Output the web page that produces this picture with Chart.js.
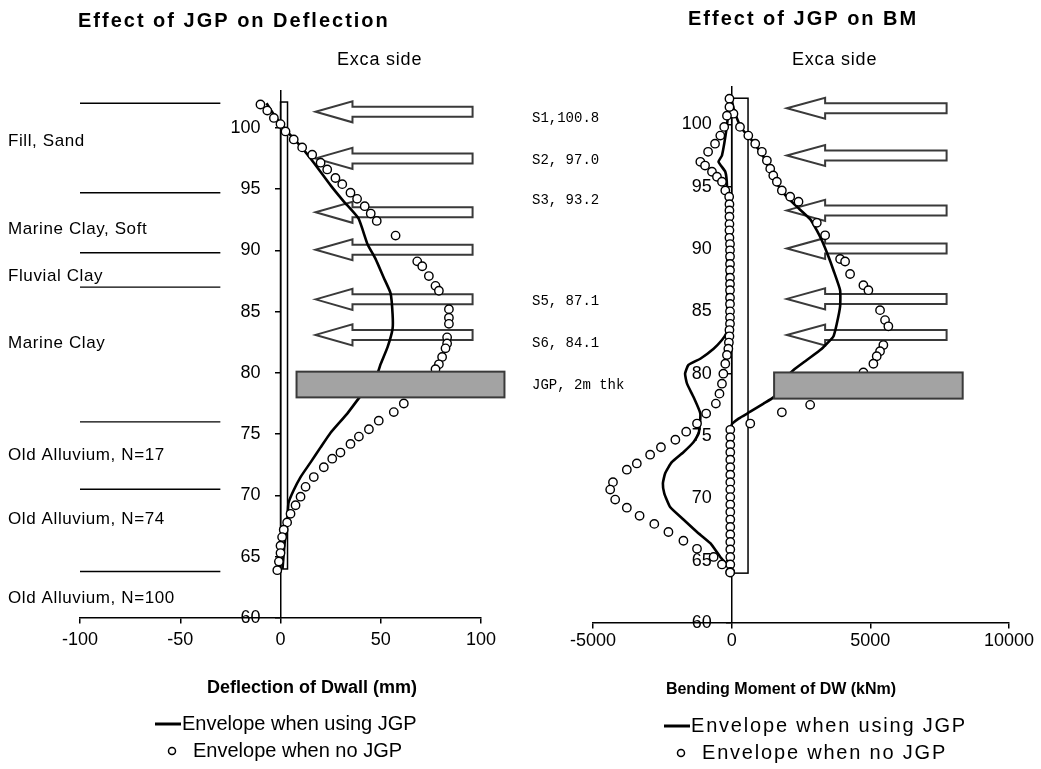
<!DOCTYPE html>
<html><head><meta charset="utf-8">
<script src="https://cdn.jsdelivr.net/npm/chart.js@4/dist/chart.umd.min.js"></script>
<style>
html,body{margin:0;padding:0;background:#fff;}
#wrap{position:relative;width:1041px;height:769px;overflow:hidden;}
canvas{position:absolute;left:0;top:0;}
</style></head><body>
<div id="wrap"><canvas id="c1" width="1041" height="769"></canvas><canvas id="c2" width="1041" height="769"></canvas></div>
<script>
// ---------- data ----------
const elevTicks = [60, 65, 70, 75, 80, 85, 90, 95, 100];
const deflTicks = [-100, -50, 0, 50, 100];
const bmTicks = [-5000, 0, 5000, 10000];

// Deflection envelope with JGP (mm, elevation m)
const deflJgpValue = [-7, -3, 3.3, 10, 16.6, 25, 31.5, 38.9, 43.4, 47.4, 51.4, 54.9, 55.9, 55.9, 53.4, 49.9, 48.4, 38.9, 33.4, 24.9, 19.9, 15, 10, 6.5, 4, 3.5, 3, 2, 1];
const deflJgpElev  = [102, 101, 99.7, 98.5, 97.15, 95.3, 94.0, 92.6, 90.5, 89.3, 87.8, 86.5, 84.8, 83.6, 82.1, 80.7, 80.0, 77.9, 76.7, 75.1, 73.9, 72.7, 71.5, 70.4, 69.4, 68.2, 67.4, 66, 64];

// Deflection envelope without JGP
const deflNoJgpValue = [-10, -6.6, -3.3, 0, 2.5, 6.6, 10.8, 15.8, 20, 23.3, 27.4, 30.8, 34.9, 38.2, 42, 45, 48, 57.4, 68.2, 70.7, 74, 77.3, 79, 84, 84, 84, 83.1, 83.1, 82.3, 80.6, 79, 77.3, 61.5, 56.5, 49, 44.1, 39.1, 34.9, 29.9, 25.8, 21.6, 16.6, 12.5, 10, 7.5, 5, 3.3, 1.6, 0.8, 0, 0, -0.8, -1.6];
const deflNoJgpElev  = [101.9, 101.4, 100.8, 100.3, 99.7, 99.05, 98.4, 97.8, 97.15, 96.6, 95.9, 95.4, 94.7, 94.2, 93.6, 93.0, 92.4, 91.2, 89.1, 88.7, 87.9, 87.1, 86.7, 85.2, 84.5, 84.0, 82.9, 82.4, 82.0, 81.3, 80.7, 80.3, 77.5, 76.8, 76.1, 75.4, 74.8, 74.2, 73.5, 73.0, 72.3, 71.5, 70.7, 69.9, 69.2, 68.5, 67.8, 67.2, 66.6, 65.9, 65.3, 64.6, 63.9];

// Bending moment envelope with JGP (kNm) - negative and positive branches
const bmJgpNegValue = [-80, -100, -170, -350, -475, -230, -170, -160, -160, -160, -160, -200, -350, -650, -1130, -1560, -1680, -1610, -1380, -1130, -1190, -1380, -1740, -2160, -2400, -2480, -2430, -2220, -1740, -1250, -770, -410, -170, -50];
const bmJgpNegElev  = [102, 101.5, 99.9, 97.5, 97.0, 96.2, 95.1, 92, 88, 85, 83.8, 83.2, 82.7, 82.0, 81.2, 80.7, 80.0, 79.2, 78.15, 76.8, 75.2, 74.5, 73.7, 72.9, 72.0, 71.2, 70.4, 69.3, 68.3, 67.3, 66.4, 65.3, 64.7, 64.3];
const bmJgpPosValue = [0, 100, 350, 700, 1000, 1250, 1450, 1650, 1900, 2300, 2830, 3070, 3250, 3490, 3670, 3910, 3910, 3790, 3670, 3250, 2710, 2230, 1990, 1750, 1530, 1150, 670, 250, 0, 0];
const bmJgpPosElev  = [102, 101, 99.7, 98.8, 97.9, 97, 96, 95.2, 94.4, 93.5, 92.4, 91.5, 90.7, 89.4, 88.3, 86.7, 85.4, 84.0, 83.0, 82.0, 81.1, 80.3, 79.75, 79, 78.15, 77.6, 76.95, 76.4, 75.9, 64];

// Bending moment envelope without JGP
const bmNoJgpValue = [
  -80, 65, 300, 600, 850, 1090, 1270, 1390, 1500, 1630, 1810, 2110, 2410, 3070, 3370, 3910, 4090, 4270, 4750, 4930, 5350, 5530, 5650, 5470, 5350, 5230, 5110, 4750, 2830, 1810, 670,
  -50, -50, -50, -50, -50, -50, -50, -50, -50, -50, -50, -50, -50, -50, -50, -50, -50, -50, -50, -50,
  -80, -170, -270, -410, -600, -850, -1130, -960, -710, -530, -350, -230, -90,
  -80, -80, -80, -80, -80, -80, -60, -60, -60, -60, -60, -60, -60, -60, -60, -60, -60, -60, -60, -80, -80, -100, -120, -170, -230, -300,
  -350, -440, -570, -920, -1250, -1640, -2030, -2550, -2940, -3420, -3780, -4280, -4380, -4200, -3780, -3320, -2790, -2280, -1740, -1250, -650, -350, -55];
const bmNoJgpElev = [
  102.06, 100.86, 99.8, 99.1, 98.45, 97.8, 97.1, 96.45, 95.9, 95.4, 94.7, 94.2, 93.8, 92.1, 91.1, 89.2, 89.0, 88.0, 87.1, 86.7, 85.1, 84.3, 83.8, 82.3, 81.8, 81.4, 80.8, 80.1, 77.5, 76.9, 76.0,
  75.5, 74.9, 74.3, 73.7, 73.1, 72.5, 71.9, 71.3, 70.7, 70.1, 69.5, 68.9, 68.3, 67.7, 67.1, 66.5, 65.9, 65.3, 64.7, 64.1,
  101.4, 100.7, 99.8, 99.1, 98.45, 97.8, 97.0, 96.7, 96.2, 95.8, 95.4, 94.7, 94.2,
  93.6, 93.1, 92.6, 92.0, 91.5, 90.9, 90.4, 89.9, 89.4, 88.8, 88.3, 87.7, 87.2, 86.7, 86.1, 85.6, 85.0, 84.5, 84.0, 83.5, 83.0, 82.5, 82.0, 81.5, 80.8, 80.0,
  79.2, 78.4, 77.6, 76.8, 76.0, 75.35, 74.7, 74.1, 73.5, 72.8, 72.3, 71.3, 70.7, 69.9, 69.25, 68.6, 67.95, 67.3, 66.6, 65.95, 65.3, 64.7, 64.05];

// Site information
const soilLayers = ['Fill, Sand', 'Marine Clay, Soft', 'Fluvial Clay', 'Marine Clay', 'Old Alluvium, N=17', 'Old Alluvium, N=74', 'Old Alluvium, N=100'];
const layerBoundaryElev = [102, 94.7, 89.8, 87.0, 76.0, 70.5, 63.8];
const strutLabels = ['S1,100.8', 'S2, 97.0', 'S3, 93.2', 'S5, 87.1', 'S6, 84.1', 'JGP, 2m thk'];
const strutArrowElev = [101.3, 97.5, 93.1, 90.05, 86.0, 83.1];
const jgpLayer = [78.0, 80.1];
const wallLevels = [64, 102.1];
const legendLabels = ['Envelope when using JGP', 'Envelope when no JGP'];

// ---------- helpers ----------
const pts = (xs, ys) => xs.map((v, i) => ({x: v, y: ys[i]}));
const FONT = '"Liberation Sans", Arial, sans-serif';

function drawText(ctx, s, x, y, o) {
  ctx.save();
  ctx.font = o.font;
  ctx.fillStyle = o.color || '#000';
  ctx.textAlign = o.align || 'left';
  ctx.textBaseline = o.baseline || 'middle';
  if (o.ls && 'letterSpacing' in ctx) ctx.letterSpacing = o.ls + 'px';
  ctx.fillText(s, x, y);
  ctx.restore();
}

function drawArrow(ctx, xTip, xBase, xTail, y) {
  ctx.save();
  ctx.beginPath();
  ctx.moveTo(xTip, y);
  ctx.lineTo(xBase, y - 10.5);
  ctx.lineTo(xBase, y - 5);
  ctx.lineTo(xTail, y - 5);
  ctx.lineTo(xTail, y + 5);
  ctx.lineTo(xBase, y + 5);
  ctx.lineTo(xBase, y + 10.5);
  ctx.closePath();
  ctx.fillStyle = '#fff';
  ctx.fill();
  ctx.lineWidth = 2;
  ctx.strokeStyle = '#3a3a3a';
  ctx.stroke();
  ctx.restore();
}

const decoPlugin = {
  id: 'deco',
  beforeDatasetsDraw(chart, args, o) {
    const {ctx, scales: {x, y}} = chart;
    strutArrowElev.forEach(e => drawArrow(ctx, x.getPixelForValue(o.arrow[0]), x.getPixelForValue(o.arrow[1]), x.getPixelForValue(o.arrow[2]), y.getPixelForValue(e)));
    ctx.save();
    ctx.strokeStyle = '#000'; ctx.lineWidth = 1.5;
    const x0 = x.getPixelForValue(0), x1 = x.getPixelForValue(o.wallWidth);
    const yt = y.getPixelForValue(wallLevels[1]), yb = y.getPixelForValue(wallLevels[0]);
    ctx.strokeRect(x0, yt, x1 - x0, yb - yt);
    ctx.restore();
  },
  afterDatasetsDraw(chart, args, o) {
    const {ctx, scales: {x, y}} = chart;
    const xa = x.getPixelForValue(o.jgpX[0]), xb = x.getPixelForValue(o.jgpX[1]);
    const ya = y.getPixelForValue(jgpLayer[1]), yb = y.getPixelForValue(jgpLayer[0]);
    ctx.save();
    ctx.fillStyle = '#a3a3a3';
    ctx.fillRect(xa, ya, xb - xa, yb - ya);
    ctx.strokeStyle = '#3a3a3a'; ctx.lineWidth = 2;
    ctx.strokeRect(xa, ya, xb - xa, yb - ya);
    ctx.restore();
    drawText(ctx, o.title, o.titlePos[0], o.titlePos[1], {font: 'bold 20px ' + FONT, ls: 2});
    drawText(ctx, 'Exca side', o.excaPos[0], o.excaPos[1], {font: '18px ' + FONT, ls: 0.8});
    drawText(ctx, o.axisTitle, o.axisTitlePos[0], o.axisTitlePos[1], {font: 'bold ' + o.axisTitleSize + 'px ' + FONT, align: 'center'});
    const [lx, ly] = o.legendPos;
    ctx.save();
    ctx.strokeStyle = '#000'; ctx.lineWidth = 3;
    ctx.beginPath(); ctx.moveTo(lx, ly); ctx.lineTo(lx + 26, ly); ctx.stroke();
    ctx.lineWidth = 1.5; ctx.fillStyle = '#fff';
    ctx.beginPath(); ctx.arc(lx + 17, ly + 27, 3.5, 0, Math.PI * 2); ctx.fill(); ctx.stroke();
    ctx.restore();
    drawText(ctx, legendLabels[0], lx + 27, ly, {font: '20px ' + FONT, ls: o.legendLs});
    drawText(ctx, legendLabels[1], lx + 38, ly + 27, {font: '20px ' + FONT, ls: o.legendLs});
    if (o.left) {
      soilLayers.forEach((s, i) => drawText(ctx, s, 8, y.getPixelForValue(o.layerLabelElev[i]), {font: '17px ' + FONT, ls: 0.6}));
      strutLabels.forEach((s, i) => drawText(ctx, s, 532, o.strutLabelY[i], {font: '14px "Liberation Mono", "DejaVu Sans Mono", monospace'}));
    }
  }
};

function axisCommon(ticksArr, extra) {
  return Object.assign({
    type: 'linear',
    afterBuildTicks: s => { s.ticks = ticksArr.map(v => ({value: v})); },
    grid: {display: true, drawOnChartArea: false, drawTicks: true, tickLength: 5, color: '#000', lineWidth: 1.5},
    border: {display: true, color: '#000', width: 1.5}
  }, extra);
}

function makeChart(id, cfg) {
  const ds = [
    {label: legendLabels[1], data: cfg.noJgp, showLine: false, pointRadius: 4.2, pointBorderWidth: 1.4, pointBackgroundColor: '#fff', pointBorderColor: '#000'}
  ].concat(cfg.jgpLines.map(d => ({label: legendLabels[0], data: d, showLine: true, pointRadius: 0, borderColor: '#000', borderWidth: 2.6, tension: 0.15})));
  if (cfg.extraLines) cfg.extraLines.forEach(d => ds.push({label: 'layer', data: d, showLine: true, pointRadius: 0, borderColor: '#000', borderWidth: 1.4}));
  return new Chart(document.getElementById(id), {
    type: 'scatter',
    data: {datasets: ds},
    options: {
      responsive: false, animation: false, devicePixelRatio: 1,
      layout: {padding: cfg.padding},
      plugins: {legend: {display: false}, tooltip: {enabled: false}, title: {display: false}, deco: cfg.deco},
      scales: {
        x: axisCommon(cfg.xTicks, {min: cfg.xRange[0], max: cfg.xRange[1], position: {y: 60},
          ticks: {color: '#000', font: {family: FONT, size: 18}, maxRotation: 0, autoSkip: false, padding: cfg.xTickPad, callback: v => String(v)}}),
        y: axisCommon(elevTicks, {min: 60, max: 103, position: {x: 0},
          ticks: {color: '#000', font: {family: FONT, size: 18}, autoSkip: false, callback: v => v + '    '}})
      }
    },
    plugins: [decoPlugin]
  });
}

makeChart('c1', {
  noJgp: pts(deflNoJgpValue, deflNoJgpElev),
  jgpLines: [pts(deflJgpValue, deflJgpElev)],
  extraLines: layerBoundaryElev.map(e => [{x: -100, y: e}, {x: -30, y: e}]),
  xTicks: deflTicks, xRange: [-100, 100], xTickPad: 6,
  padding: {left: 80, right: 1041 - 481, top: 91, bottom: 769 - 618},
  deco: {
    left: true, arrow: [17.5, 35.9, 95.8], wallWidth: 3.5, jgpX: [8, 111.7],
    title: 'Effect of JGP on Deflection', titlePos: [78, 21], excaPos: [337, 60],
    axisTitle: 'Deflection of Dwall (mm)', axisTitleSize: 18, axisTitlePos: [312, 688], legendPos: [155, 724], legendLs: 0,
    layerLabelElev: [98.9, 91.7, 87.9, 82.45, 73.3, 68.05, 61.6],
    strutLabelY: [118, 160, 200.7, 301.7, 343.3, 385]
  }
});

makeChart('c2', {
  noJgp: pts(bmNoJgpValue, bmNoJgpElev),
  jgpLines: [pts(bmJgpNegValue, bmJgpNegElev), pts(bmJgpPosValue, bmJgpPosElev)],
  xTicks: bmTicks, xRange: [-5000, 10000], xTickPad: 2,
  padding: {left: 593, right: 32, top: 87, bottom: 769 - 623},
  deco: {
    left: false, arrow: [1990, 3370, 7750], wallWidth: 590, jgpX: [1530, 8330],
    title: 'Effect of JGP on BM', titlePos: [688, 19], excaPos: [792, 60],
    axisTitle: 'Bending Moment of DW (kNm)', axisTitleSize: 16, axisTitlePos: [781, 690], legendPos: [664, 726], legendLs: 1.8
  }
});
</script>
</body></html>
